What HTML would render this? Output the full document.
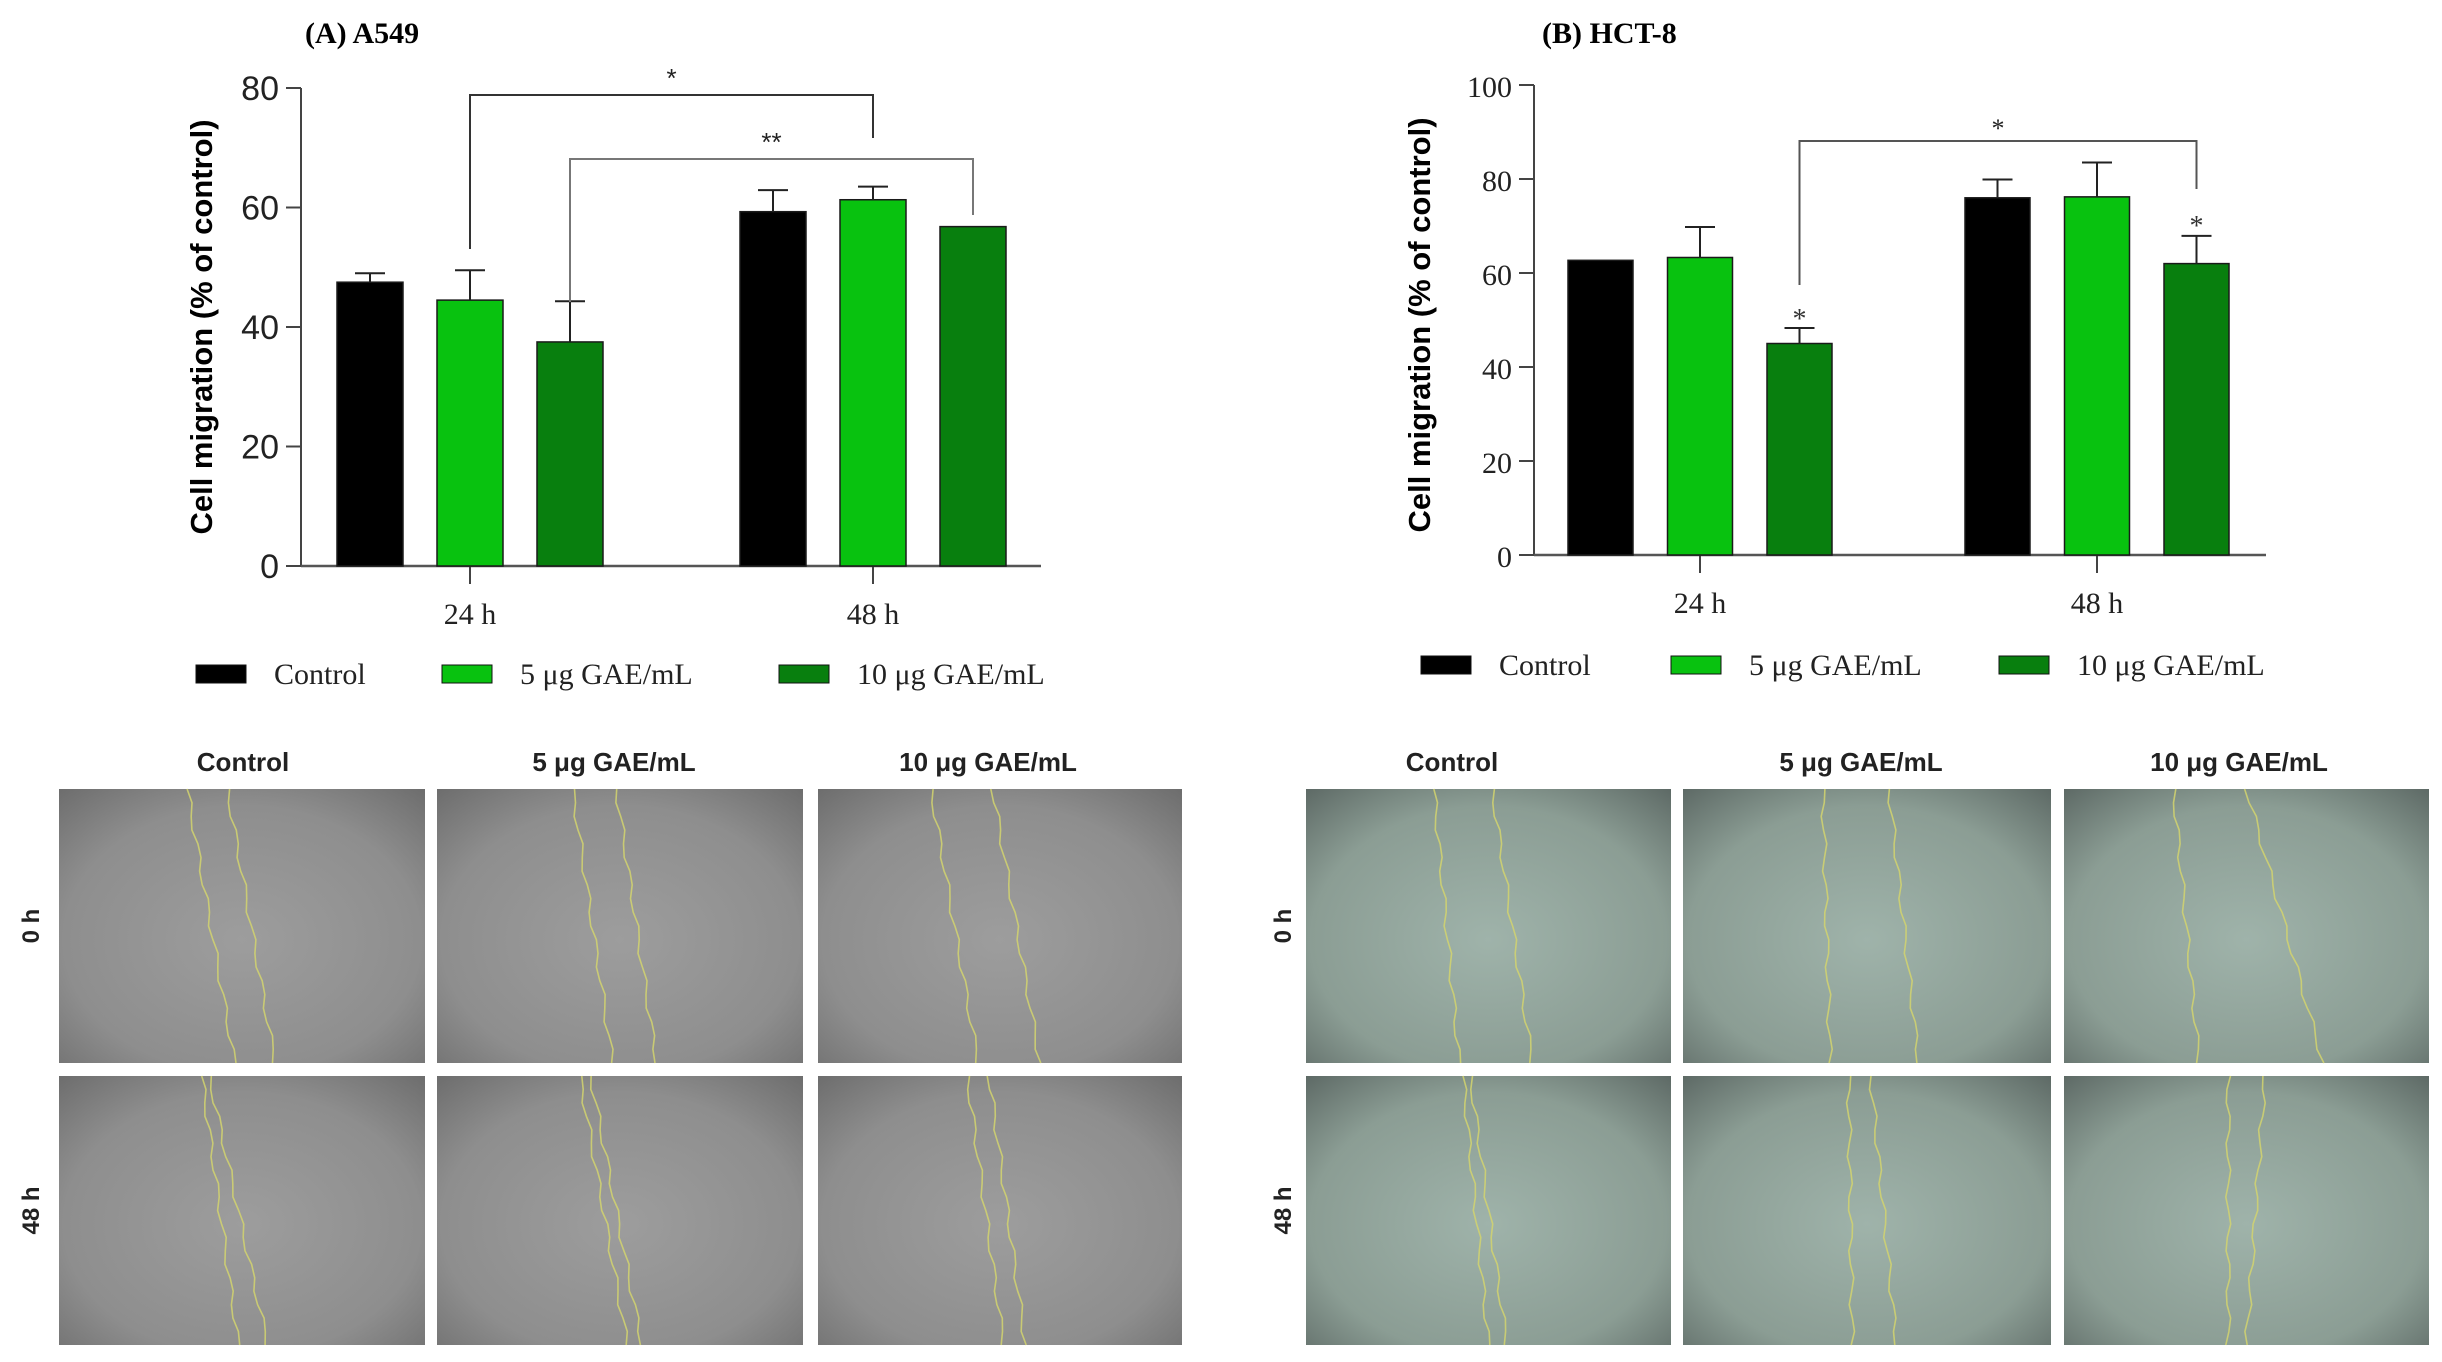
<!DOCTYPE html>
<html><head><meta charset="utf-8"><style>
html,body{margin:0;padding:0;background:#fff;}
svg{display:block;}
.serif{font-family:"Liberation Serif",serif;}
.sans{font-family:"Liberation Sans",sans-serif;}
</style></head><body>
<svg id="fig" width="2442" height="1362" viewBox="0 0 2442 1362" xmlns="http://www.w3.org/2000/svg">
<defs>
<radialGradient id="gGray" cx="0.5" cy="0.55" r="0.75">
<stop offset="0" stop-color="#9d9d9d"/><stop offset="0.65" stop-color="#8e8e8e"/><stop offset="1" stop-color="#6c6c6c"/></radialGradient>
<radialGradient id="gTeal" cx="0.5" cy="0.55" r="0.75">
<stop offset="0" stop-color="#9fb3aa"/><stop offset="0.65" stop-color="#8b9d94"/><stop offset="1" stop-color="#5c6864"/></radialGradient>
</defs>
<g id="chartA"></g>
<g id="chartB"></g>
<g id="imgs"></g>
</svg>
<script>
const NS='http://www.w3.org/2000/svg';
const categories=['24 h','48 h'];
const seriesNames=['Control','5 μg GAE/mL','10 μg GAE/mL'];
const seriesColors=['#000000','#08c20f','#087f0e'];
// Panel A (A549)
const aControl=[47.5,59.3];
const a5=[44.5,61.3];
const a10=[37.5,56.8];
const aErrControl=[1.5,3.6];
const aErr5=[5.0,2.2];
const aErr10=[6.8,0];
const aTicks=[0,20,40,60,80];
// Panel B (HCT-8)
const bControl=[62.7,76.0];
const b5=[63.3,76.2];
const b10=[45.0,62.0];
const bErrControl=[0,3.9];
const bErr5=[6.5,7.3];
const bErr10=[3.3,5.9];
const bTicks=[0,20,40,60,80,100];

function el(tag,attrs,parent,text){const e=document.createElementNS(NS,tag);for(const k in attrs)e.setAttribute(k,attrs[k]);if(text!==undefined)e.textContent=text;parent.appendChild(e);return e;}

function drawChart(g,cfg){
  const y=v=>cfg.y0-(v-cfg.ymin)/(cfg.ymax-cfg.ymin)*(cfg.y0-cfg.y1);
  const xBar=(gi,si)=>cfg.firstBar+gi*cfg.groupStep+si*cfg.barStep;
  let t=el('text',{x:cfg.titleX,y:cfg.titleY,'font-size':30,'font-weight':'bold',class:'serif'},g,cfg.title);
  
  
  let ax=el('line',{x1:cfg.axisX,y1:cfg.y1,x2:cfg.axisX,y2:cfg.y0,stroke:'#444','stroke-width':2},g);
  
  
  let xx=el('line',{x1:cfg.axisX,y1:cfg.y0,x2:cfg.axisEnd,y2:cfg.y0,stroke:'#555','stroke-width':2.5},g);
  
  
  cfg.ticks.forEach(v=>{
    el('line',{x1:cfg.axisX-15,y1:y(v),x2:cfg.axisX,y2:y(v),stroke:'#444','stroke-width':2},g);
    let tl=el('text',{x:cfg.axisX-22,y:y(v)+12,'font-size':cfg.tickSize,'text-anchor':'end',fill:'#222',class:cfg.tickFont},g,String(v));
    
    
  });
  let yt=el('text',{x:0,y:0,'font-size':31,'font-weight':'bold','text-anchor':'middle',class:'sans',transform:`translate(${cfg.ytX},${cfg.ytY}) rotate(-90)`},g,'Cell migration (% of control)');
  
  
  categories.forEach((c,gi)=>{
    const cx=xBar(gi,1)+cfg.barW/2;
    el('line',{x1:cx,y1:cfg.y0,x2:cx,y2:cfg.y0+18,stroke:'#444','stroke-width':2},g);
    let cl=el('text',{x:cx,y:cfg.xlY,'font-size':30,'text-anchor':'middle',class:'serif',fill:'#222'},g,c);
    
    
  });
  cfg.series.forEach((vals,si)=>{
    vals.forEach((v,gi)=>{
      const x=xBar(gi,si);
      let r=el('rect',{x:x,y:y(v),width:cfg.barW,height:cfg.y0-y(v),fill:seriesColors[si],stroke:'#1a1a1a','stroke-width':1.5},g);
      
      
      const e=cfg.errs[si][gi];
      if(e>0){
        const cx=x+cfg.barW/2;
        el('line',{x1:cx,y1:y(v),x2:cx,y2:y(v+e),stroke:'#222','stroke-width':2},g);
        el('line',{x1:cx-15,y1:y(v+e),x2:cx+15,y2:y(v+e),stroke:'#222','stroke-width':2},g);
      }
    });
  });
  cfg.brackets.forEach(b=>{
    const xa=xBar(b.g1,b.s1)+cfg.barW/2, xb=xBar(b.g2,b.s2)+cfg.barW/2;
    let p=el('path',{d:`M${xa},${b.ya} V${b.top} H${xb} V${b.yb}`,fill:'none',stroke:b.col,'stroke-width':2},g);
    
    
    let s=el('text',{x:(xa+xb)/2,y:b.top-b.sOff,'font-size':26,'text-anchor':'middle',class:b.sFont,fill:'#222'},g,b.star);
    
    
  });
  (cfg.marks||[]).forEach(m=>{
    const x=xBar(m.g,m.s)+cfg.barW/2;
    let s=el('text',{x:x,y:m.y,'font-size':28,'text-anchor':'middle',class:'serif',fill:'#333'},g,'*');
    
    
  });
  seriesNames.forEach((n,si)=>{
    let sw=el('rect',{x:cfg.legX[si],y:cfg.legY-9,width:50,height:18,fill:seriesColors[si],stroke:'#111','stroke-width':1},g);
    
    
    let lt=el('text',{x:cfg.legX[si]+78,y:cfg.legY+10,'font-size':30,class:'serif',fill:'#222'},g,n);
    
    
  });
}

drawChart(document.getElementById('chartA'),{
  title:'(A) A549',titleX:305,titleY:43,axisX:301,axisEnd:1041,y0:566,y1:88,ymin:0,ymax:80,ticks:aTicks,
  tickSize:34,tickFont:'sans',ytX:212,ytY:327,xlY:624,
  firstBar:337,groupStep:403,barStep:100,barW:66,
  series:[aControl,a5,a10],errs:[aErrControl,aErr5,aErr10],
  brackets:[{g1:0,s1:1,g2:1,s2:1,ya:249,yb:138,top:95,col:'#333',star:'*',sOff:8,sFont:'sans'},
            {g1:0,s1:2,g2:1,s2:2,ya:302,yb:215,top:159,col:'#777',star:'**',sOff:8,sFont:'sans'}],
  legX:[196,442,779],legY:674
});
drawChart(document.getElementById('chartB'),{
  title:'(B) HCT-8',titleX:1542,titleY:43,axisX:1534,axisEnd:2266,y0:555,y1:85,ymin:0,ymax:100,ticks:bTicks,
  tickSize:30,tickFont:'serif',ytX:1430,ytY:325,xlY:613,
  firstBar:1568,groupStep:397,barStep:99.5,barW:65,
  series:[bControl,b5,b10],errs:[bErrControl,bErr5,bErr10],
  brackets:[{g1:0,s1:2,g2:1,s2:2,ya:285,yb:189,top:141,col:'#555',star:'*',sOff:4,sFont:'serif'}],
  marks:[{g:0,s:2,y:328},{g:1,s:2,y:235}],
  legX:[1421,1671,1999],legY:665
});

const imgG=document.getElementById('imgs');
const headers=['Control','5 μg GAE/mL','10 μg GAE/mL'];
const blocks=[
 {xs:[[59,425],[437,803],[818,1182]],hx:[243,614,988],rowX:31,grad:'gGray',
  lines:[[[0.35,0.48],[0.46,0.59]],[[0.37,0.48],[0.49,0.60]],[[0.31,0.44],[0.48,0.61]],
         [[0.39,0.49],[0.41,0.57]],[[0.39,0.52],[0.42,0.56]],[[0.41,0.51],[0.47,0.57]]]},
 {xs:[[1306,1671],[1683,2051],[2064,2429]],hx:[1452,1861,2239],rowX:1283,grad:'gTeal',
  lines:[[[0.35,0.42],[0.51,0.62]],[[0.38,0.40],[0.56,0.64]],[[0.30,0.37],[0.50,0.71]],
         [[0.43,0.50],[0.45,0.55]],[[0.45,0.46],[0.51,0.58]],[[0.45,0.45],[0.55,0.50]]]}
];
const rows=[[789,1063],[1076,1345]];
blocks.forEach((b,bi)=>{
  b.hx.forEach((hx,i)=>{
    let h=el('text',{x:hx,y:771,'font-size':26,'font-weight':'bold','text-anchor':'middle',class:'sans',fill:'#222'},imgG,headers[i]);
    
    
  });
  ['0 h','48 h'].forEach((r,ri)=>{
    const cy=(rows[ri][0]+rows[ri][1])/2;
    let t=el('text',{x:0,y:0,'font-size':24,'font-weight':'bold','text-anchor':'middle',class:'sans',fill:'#222',transform:`translate(${b.rowX+8},${cy}) rotate(-90)`},imgG,r);
    
    
  });
  rows.forEach((ry,ri)=>{
    b.xs.forEach((xr,ci)=>{
      const w=xr[1]-xr[0],h=ry[1]-ry[0];
      let r=el('rect',{x:xr[0],y:ry[0],width:w,height:h,fill:`url(#${b.grad})`},imgG);
      
      
      const ln=b.lines[ri*3+ci];
      ln.forEach((f,li)=>{
        let d='';
        for(let k=0;k<=20;k++){
          const t=k/20;
          const fx=f[0]+(f[1]-f[0])*t;
          const wob=Math.sin(k*1.7+li*2+ci)*2.5;
          d+=(k?'L':'M')+(xr[0]+fx*w+wob).toFixed(1)+','+(ry[0]+t*h).toFixed(1);
        }
        let p=el('path',{d:d,fill:'none',stroke:'#d2d46e','stroke-width':1.6,opacity:0.85},imgG);
        
        
      });
    });
  });
});
</script>
</body></html>
